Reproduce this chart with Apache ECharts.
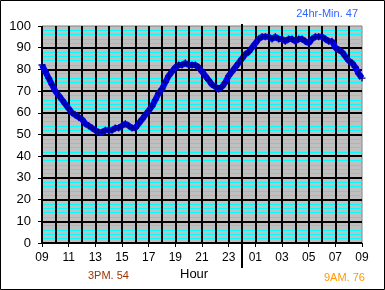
<!DOCTYPE html>
<html>
<head>
<meta charset="utf-8">
<script src="https://cdn.jsdelivr.net/npm/echarts@6/dist/echarts.min.js"></script>
<style>html,body{margin:0;padding:0;background:#fff}#c{width:385px;height:290px}</style>
</head>
<body>
<div id="c"></div>
<script>
// Hours after 09:00, sampled every 15 minutes (0 .. 24)
const stepHours = 0.25;
const values = [
  82,79,76,73,70,68,66,64,62,60,59,58,57,55,54,53,
  52,51,51,52,52,52,53,53,54,55,54,53,53,55,57,59,
  61,63,66,69,71,74,77,79,81,82,82,83,82,82,82,81,
  79,77,75,73,72,71,72,74,77,79,81,83,85,87,88,90,
  92,94,95,95,95,94,95,94,94,93,94,94,93,94,94,93,
  92,94,95,95,95,94,93,93,90,89,88,86,84,83,81,78,
  76
];
const xTickLabels = ['09','11','13','15','17','19','21','23','01','03','05','07','09'];
const midnightHour = 15;
const notes = { minText: '24hr-Min. 47', pmText: '3PM. 54', amText: '9AM. 76', axisName: 'Hour' };

const points = values.map((v, i) => [i * stepHours, v]);
const plusPath = 'path://M4,0L6,0L6,4L10,4L10,6L6,6L6,10L4,10L4,6L0,6L0,4L4,4Z';
const font = 'Liberation Sans, Arial, sans-serif';

const chart = echarts.init(document.getElementById('c'), null, { renderer: 'canvas' });
chart.setOption({
  animation: false,
  grid: { left: 42, top: 26, right: 23, bottom: 47, show: true, backgroundColor: '#c0c0c0', borderColor: '#808080', borderWidth: 1 },
  xAxis: {
    type: 'value', min: 0, max: 24, interval: 2,
    axisLine: { show: false },
    axisTick: { show: true, length: 4, lineStyle: { color: '#000', width: 1 } },
    axisLabel: { color: '#000', fontSize: 12, fontFamily: font, margin: 9,
      formatter: v => xTickLabels[Math.round(v / 2)] },
    splitLine: { show: true, showMinLine: true, showMaxLine: false, lineStyle: { color: '#000', width: 2 } },
    minorTick: { show: false, splitNumber: 2 },
    minorSplitLine: { show: true, lineStyle: { color: '#000', width: 2 } }
  },
  yAxis: {
    type: 'value', min: 0, max: 100, interval: 10,
    axisLine: { show: false },
    axisTick: { show: true, length: 4, lineStyle: { color: '#000', width: 1 } },
    axisLabel: { color: '#000', fontSize: 13, fontFamily: font, margin: 11 },
    splitLine: { show: true, showMinLine: true, showMaxLine: false, lineStyle: { color: '#000', width: 2 } },
    minorTick: { show: false, splitNumber: 5 },
    minorSplitLine: { show: true, lineStyle: { color: '#00ffff', width: 1 } }
  },
  series: [{
    type: 'line', data: points, z: 5,
    lineStyle: { color: '#0000ff', width: 6 },
    symbol: plusPath, symbolSize: 7, showAllSymbol: true,
    itemStyle: { color: '#00008b' }
  }]
});

const mx = chart.convertToPixel({ xAxisIndex: 0 }, midnightHour);
const yTop = chart.convertToPixel({ yAxisIndex: 0 }, 100);
const yBot = chart.convertToPixel({ yAxisIndex: 0 }, 0);
chart.setOption({
  graphic: [
    { type: 'rect', shape: { x: 0.5, y: 0.5, width: 384, height: 289 }, style: { fill: 'none', stroke: '#000', lineWidth: 1 }, z: 100 },
    { type: 'line', shape: { x1: mx, y1: yTop - 2, x2: mx, y2: yBot + 25 }, style: { stroke: '#000', lineWidth: 2 }, z: 100 },
    { type: 'text', right: 27, top: 8, style: { text: notes.minText, fill: '#3366ff', font: '11px ' + font } },
    { type: 'text', left: 88, top: 270, style: { text: notes.pmText, fill: '#993300', font: '11px ' + font } },
    { type: 'text', left: 324, top: 272, style: { text: notes.amText, fill: '#ff9900', font: '11px ' + font } },
    { type: 'text', left: 180, top: 268, style: { text: notes.axisName, fill: '#000', font: '13px ' + font } }
  ]
});
</script>
</body>
</html>
